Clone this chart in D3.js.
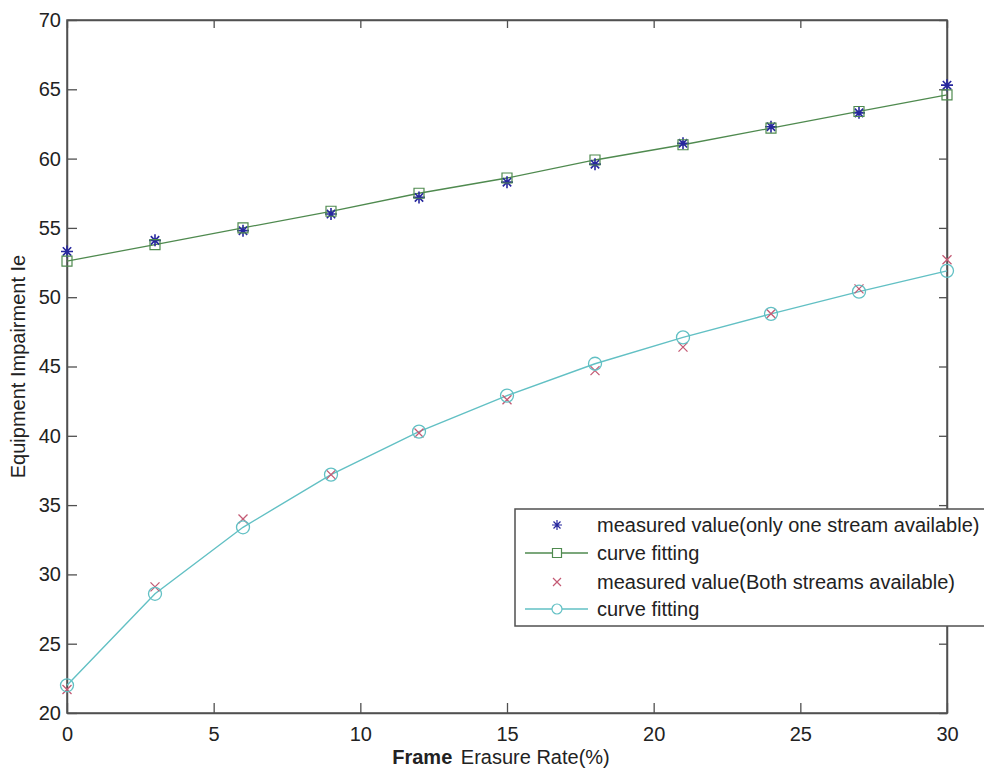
<!DOCTYPE html>
<html>
<head>
<meta charset="utf-8">
<script src="https://cdn.jsdelivr.net/npm/d3@7"></script>
<style>
html,body{margin:0;padding:0;background:#fff;}
svg{display:block;font-family:"Liberation Sans",Arial,sans-serif;}
</style>
</head>
<body>
<svg id="chart" width="984" height="773"></svg>
<script>
// ---- data ----
const erasureRate = [0, 3, 6, 9, 12, 15, 18, 21, 24, 27, 30];
const measuredOne = [53.3, 54.1, 54.8, 56.0, 57.2, 58.3, 59.6, 61.1, 62.3, 63.3, 65.3];
const fitOne      = [52.6, 53.8, 55.0, 56.2, 57.5, 58.6, 59.9, 61.0, 62.2, 63.4, 64.6];
const measuredBoth = [21.7, 29.1, 34.0, 37.2, 40.2, 42.6, 44.7, 46.4, 48.8, 50.6, 52.7];
const fitBoth      = [22.0, 28.6, 33.4, 37.2, 40.3, 42.9, 45.2, 47.1, 48.8, 50.4, 51.9];
const xTicks = [0, 5, 10, 15, 20, 25, 30];
const yTicks = [20, 25, 30, 35, 40, 45, 50, 55, 60, 65, 70];
const legendLabels = [
  "measured value(only one stream available)",
  "curve fitting",
  "measured value(Both streams available)",
  "curve fitting"
];

// ---- layout ----
const svg = d3.select("#chart");
const L = 67, R = 947, T = 20, B = 713;
const x = d3.scaleLinear().domain([0, 30]).range([L, R]);
const y = d3.scaleLinear().domain([20, 70]).range([B, T]);

const axisColor = "#505050";
const cBlue = "#27279e", cGreen = "#4f8a4f", cRed = "#c45a74", cCyan = "#62c0c4";

// frame
svg.append("rect").attr("x", L).attr("y", T).attr("width", R - L).attr("height", B - T)
  .attr("fill", "#fff").attr("stroke", axisColor).attr("stroke-width", 1.5);

// axes via d3 (inward ticks)
const fontSize = 20;
const gx = svg.append("g").attr("transform", `translate(0,${B})`)
  .call(d3.axisBottom(x).tickValues(xTicks).tickSizeInner(-10).tickSizeOuter(0).tickPadding(14));
const gxTop = svg.append("g").attr("transform", `translate(0,${T})`)
  .call(d3.axisTop(x).tickValues(xTicks).tickSizeInner(-8).tickSizeOuter(0).tickFormat(""));
const gy = svg.append("g").attr("transform", `translate(${L},0)`)
  .call(d3.axisLeft(y).tickValues(yTicks).tickSizeInner(-10).tickSizeOuter(0).tickPadding(6));
const gyR = svg.append("g").attr("transform", `translate(${R},0)`)
  .call(d3.axisRight(y).tickValues(yTicks).tickSizeInner(-8).tickSizeOuter(0).tickFormat(""));
[gx, gxTop, gy, gyR].forEach(g => {
  g.select(".domain").attr("stroke", axisColor).attr("stroke-width", 1.5);
  g.selectAll(".tick line").attr("stroke", axisColor).attr("stroke-width", 1.3);
  g.selectAll(".tick text").attr("fill", "#222").style("font-size", fontSize + "px")
    .style("font-family", "'Liberation Sans', Arial, sans-serif");
});

// axis labels
const xl = svg.append("text").attr("x", 501).attr("y", 764)
  .attr("text-anchor", "middle").attr("fill", "#222").style("font-size", "20px");
xl.append("tspan").attr("font-weight", "bold").text("Frame");
xl.append("tspan").text("  Erasure Rate(%)").attr("dx", 3);

svg.append("text").attr("transform", `translate(25,${(T + B) / 2}) rotate(-90)`)
  .attr("text-anchor", "middle").attr("fill", "#222").style("font-size", "20px")
  .text("Equipment Impairment Ie");

// ---- marker paths ----
function starPath(s) {
  const d = s * 0.7;
  return `M${-s},0L${s},0M0,${-s}L0,${s}M${-d},${-d}L${d},${d}M${-d},${d}L${d},${-d}`;
}
function crossPath(s) { return `M${-s},${-s}L${s},${s}M${-s},${s}L${s},${-s}`; }
function squarePath(s) { return `M${-s},${-s}H${s}V${s}H${-s}Z`; }

const line = d3.line().x(d => x(d[0])).y(d => y(d[1]));
const plot = svg.append("g");

// series fit lines
const fit1 = erasureRate.map((v, i) => [v, fitOne[i]]);
plot.append("path").datum(fit1).attr("d", line).attr("fill", "none").attr("stroke", cGreen).attr("stroke-width", 1.3);
const fit2 = erasureRate.map((v, i) => [v, fitBoth[i]]);
plot.append("path").datum(fit2).attr("d", line).attr("fill", "none").attr("stroke", cCyan).attr("stroke-width", 1.4);

// measured one: stars
plot.selectAll(".star").data(erasureRate.map((v, i) => [v, measuredOne[i]])).enter()
  .append("path").attr("transform", d => `translate(${x(d[0])},${y(d[1])})`)
  .attr("d", starPath(6)).attr("stroke", cBlue).attr("stroke-width", 1.6).attr("fill", "none");
// fit one: squares
plot.selectAll(".sq").data(fit1).enter()
  .append("path").attr("transform", d => `translate(${x(d[0])},${y(d[1])})`)
  .attr("d", squarePath(5)).attr("stroke", cGreen).attr("stroke-width", 1.2).attr("fill", "none");
// measured both: crosses
plot.selectAll(".cr").data(erasureRate.map((v, i) => [v, measuredBoth[i]])).enter()
  .append("path").attr("transform", d => `translate(${x(d[0])},${y(d[1])})`)
  .attr("d", crossPath(4.5)).attr("stroke", cRed).attr("stroke-width", 1.3).attr("fill", "none");
// fit both: circles
plot.selectAll(".ci").data(fit2).enter()
  .append("circle").attr("cx", d => x(d[0])).attr("cy", d => y(d[1])).attr("r", 6.5)
  .attr("stroke", cCyan).attr("stroke-width", 1.3).attr("fill", "none");

// ---- legend ----
const lg = svg.append("g");
lg.append("rect").attr("x", 515).attr("y", 509).attr("width", 480).attr("height", 117)
  .attr("fill", "#fff").attr("stroke", axisColor).attr("stroke-width", 1.5);
const rowY = [525, 553, 582, 609];
const lmx = 557;
lg.append("path").attr("transform", `translate(${lmx},${rowY[0]})`).attr("d", starPath(5))
  .attr("stroke", cBlue).attr("stroke-width", 1.2).attr("fill", "none");
lg.append("line").attr("x1", 525).attr("x2", 588).attr("y1", rowY[1]).attr("y2", rowY[1]).attr("stroke", cGreen).attr("stroke-width", 1.3);
lg.append("path").attr("transform", `translate(${lmx},${rowY[1]})`).attr("d", squarePath(4.5))
  .attr("stroke", cGreen).attr("stroke-width", 1.2).attr("fill", "#fff");
lg.append("path").attr("transform", `translate(${lmx},${rowY[2]})`).attr("d", crossPath(4))
  .attr("stroke", cRed).attr("stroke-width", 1.2).attr("fill", "none");
lg.append("line").attr("x1", 525).attr("x2", 588).attr("y1", rowY[3]).attr("y2", rowY[3]).attr("stroke", cCyan).attr("stroke-width", 1.3);
lg.append("circle").attr("cx", lmx).attr("cy", rowY[3]).attr("r", 5)
  .attr("stroke", cCyan).attr("stroke-width", 1.2).attr("fill", "#fff");

lg.selectAll(".lt").data(legendLabels).enter().append("text")
  .attr("x", 597).attr("y", (d, i) => rowY[i]).attr("dy", "0.35em")
  .attr("fill", "#222").style("font-size", "20px").text(d => d);
</script>
</body>
</html>
